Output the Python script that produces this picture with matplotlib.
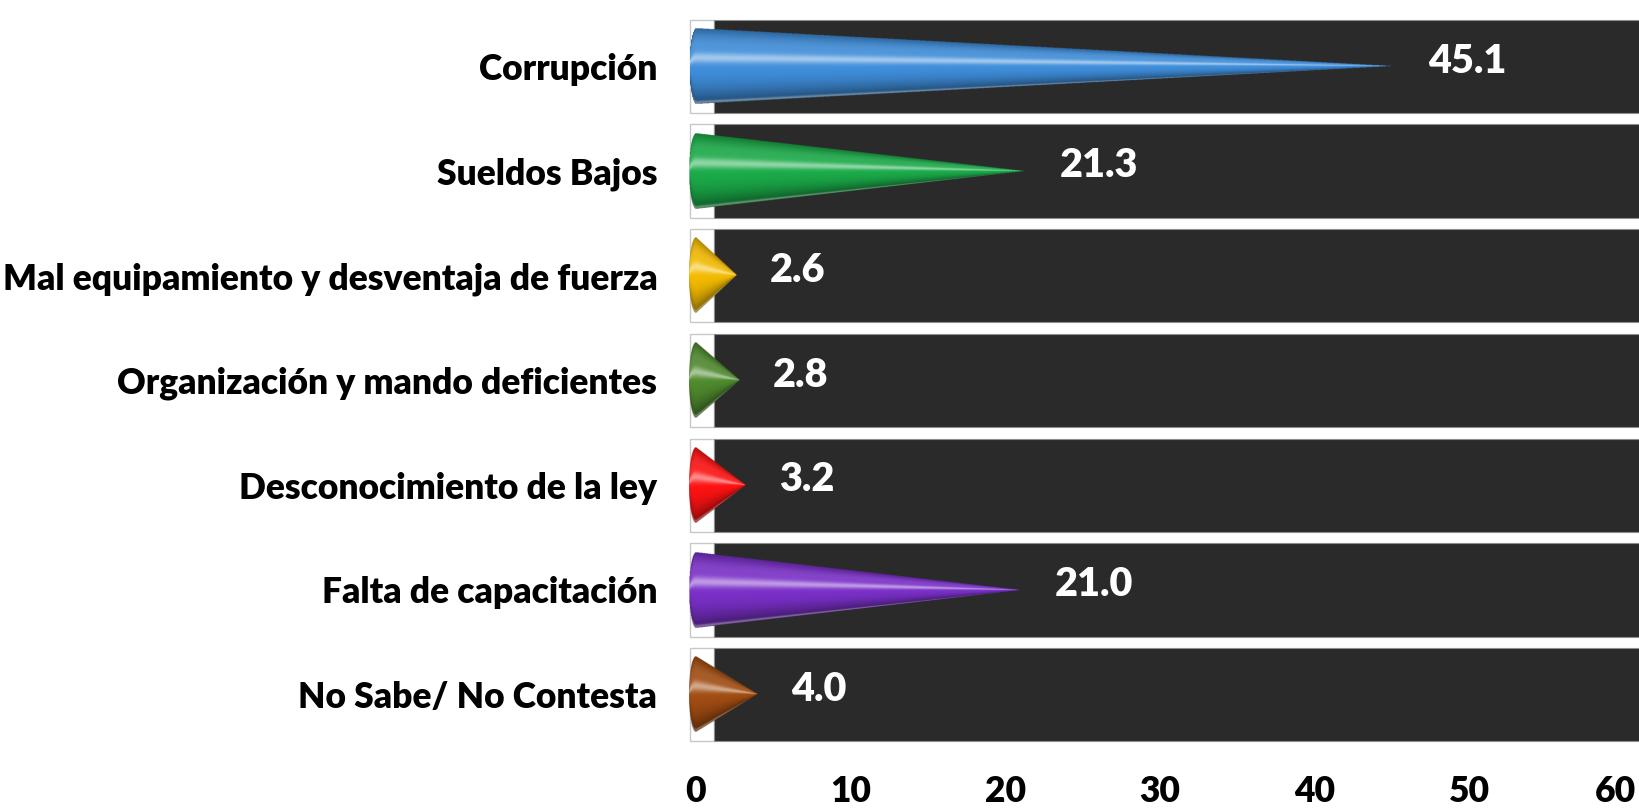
import numpy as np
import matplotlib
matplotlib.use("Agg")
import matplotlib.pyplot as plt
import matplotlib.transforms as mtransforms
from matplotlib.colors import to_rgb

plt.rcParams['font.family'] = ['Lato', 'DejaVu Sans']

# Data
categories = ['Corrupción', 'Sueldos Bajos', 'Mal equipamiento y desventaja de fuerza',
              'Organización y mando deficientes', 'Desconocimiento de la ley',
              'Falta de capacitación', 'No Sabe/ No Contesta']
values = [45.1, 21.3, 2.6, 2.8, 3.2, 21.0, 4.0]
colors = ['#3f8edb', '#1bab49', '#f3bb00', '#4f8a2e', '#ff1212', '#7b30c9', '#a24d12']
xticks = [0, 10, 20, 30, 40, 50, 60]

H = 0.36      # half height of cone base
E = 0.45      # half width of base ellipse
X_MAX = 61.0
WALL = 1.19


def draw_cone(ax, yc, v, color):
    xs = np.linspace(-E, v, 700)
    ys = np.linspace(-H, H, 220)
    X, Y = np.meshgrid(xs, ys)
    half = np.where(X < 0, H * np.sqrt(np.clip(1 - (X / E) ** 2, 0, 1)),
                    H * np.clip(1 - X / v, 0, 1))
    t = Y / np.maximum(half, 1e-9)
    inside = (np.abs(t) <= 1) & (half > 1e-9)
    base = np.array(to_rgb(color))
    light = 0.5 * np.exp(-((t + 0.22) / 0.14) ** 2) + 0.1 * np.exp(-((t + 0.6) / 0.25) ** 2)
    light += 0.35 * np.exp(-((t - 0.96) / 0.04) ** 2)
    dark = 0.5 * np.clip(t, 0, 1) ** 2 + 0.3 * np.clip(-t, 0, 1) ** 4
    rgb = base[None, None, :] * (1 - dark[..., None])
    rgb = rgb + (1 - rgb) * np.clip(light, 0, 1)[..., None]
    rgba = np.dstack([np.clip(rgb, 0, 1), inside.astype(float)])
    ax.imshow(rgba, extent=(-E, v, yc + H, yc - H), aspect='auto',
              interpolation='antialiased', zorder=4)


fig = plt.figure(figsize=(16.4, 8.1), dpi=100)
ax = fig.add_axes([687.9 / 1640, 63 / 810, 1 - 687.9 / 1640, 733 / 810])

ypos = np.arange(len(categories))

# wall strip and dark background bands
ax.barh(ypos, WALL + 0.36, left=-0.36, height=0.89, color='white',
        edgecolor='#c8c8c8', linewidth=1.0, zorder=1)
ax.barh(ypos, X_MAX - WALL, left=WALL, height=0.89, color='#2a2a2a',
        edgecolor='#8e8e8e', linewidth=0.8, zorder=2)

for i, (v, c) in enumerate(zip(values, colors)):
    draw_cone(ax, i, v, c)
    ax.text(v + 2.2, i - 0.05, f'{v:.1f}', color='white', fontsize=28.5,
            fontweight='heavy', va='center', ha='left', zorder=5)

ax.set_xlim(-0.5, X_MAX)
ax.set_ylim(6.5, -0.5)
ax.set_yticks(ypos)
ax.set_yticklabels(categories, fontsize=25.5, fontweight='heavy')
ax.set_xticks(xticks)
ax.set_xticklabels([str(x) for x in xticks], fontsize=25.5, fontweight='heavy')
ax.tick_params(length=0)
ax.tick_params(axis='x', pad=20)
ax.tick_params(axis='y', pad=22)
for s in ax.spines.values():
    s.set_visible(False)

# keep the last tick label inside the figure, like the reference
last = ax.get_xticklabels()[-1]
last.set_transform(last.get_transform() +
                   mtransforms.ScaledTranslation(-9 / 100, 0, fig.dpi_scale_trans))

fig.savefig('out.png', dpi=100)
